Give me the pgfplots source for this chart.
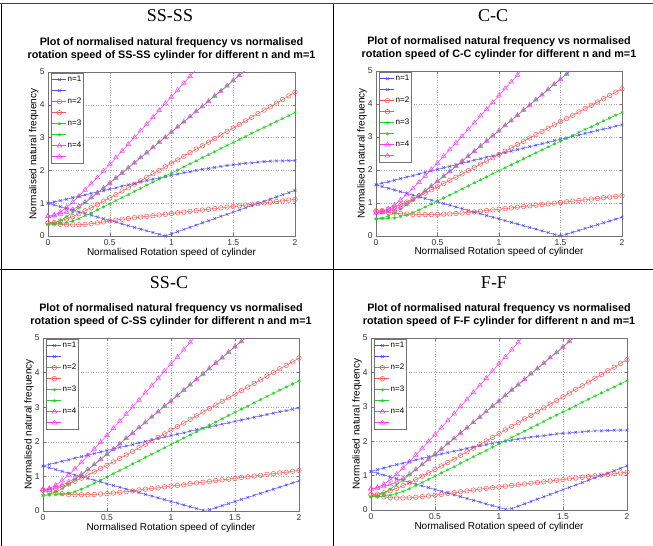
\documentclass[border=0pt]{standalone}
\usepackage{pgfplots}
\pgfplotsset{compat=1.18}
\usepackage{pgfplotstable}
\usepackage{fontspec}
\setmainfont{Liberation Sans}
\newfontfamily\headfont{Liberation Serif}
\definecolor{mblue}{RGB}{80,80,250}
\definecolor{mred}{RGB}{250,85,85}
\definecolor{mgreen}{RGB}{30,210,30}
\definecolor{mmag}{RGB}{250,60,250}

% SS-SS
\pgfplotstableread{
x Bu Bl Ru Rl Gu Gl Mu Ml
0 1.00 1.000 0.40 0.40 0.35 0.36 0.60 0.60
0.05 1.04 0.947 0.41 0.37 0.38 0.37 0.64 0.62
0.1 1.08 0.895 0.46 0.355 0.47 0.38 0.73 0.67
0.15 1.12 0.842 0.52 0.345 0.59 0.41 0.87 0.73
0.2 1.17 0.789 0.59 0.34 0.72 0.46 1.03 0.81
0.25 1.21 0.737 0.68 0.345 0.86 0.53 1.21 0.91
0.3 1.25 0.684 0.77 0.355 1.01 0.62 1.40 1.03
0.35 1.30 0.632 0.86 0.375 1.16 0.70 1.59 1.17
0.4 1.34 0.579 0.96 0.40 1.31 0.80 1.78 1.31
0.45 1.38 0.526 1.06 0.43 1.46 0.89 1.98 1.46
0.5 1.43 0.474 1.16 0.46 1.61 0.98 2.18 1.61
0.55 1.47 0.421 1.26 0.485 1.77 1.08 2.39 1.77
0.6 1.52 0.368 1.37 0.51 1.92 1.17 2.59 1.92
0.65 1.56 0.316 1.47 0.533 2.08 1.26 2.80 2.08
0.7 1.60 0.263 1.58 0.556 2.23 1.36 3.00 2.23
0.75 1.65 0.211 1.68 0.578 2.39 1.45 3.21 2.39
0.8 1.69 0.158 1.79 0.599 2.54 1.55 3.41 2.54
0.85 1.73 0.105 1.90 0.621 2.70 1.64 3.62 2.70
0.9 1.77 0.053 2.00 0.642 2.86 1.73 3.83 2.86
0.95 1.81 0.000 2.11 0.664 3.01 1.83 4.04 3.01
1.0 1.85 0.066 2.22 0.685 3.17 1.92 4.24 3.17
1.05 1.89 0.132 2.32 0.707 3.33 2.01 4.45 3.33
1.1 1.93 0.199 2.43 0.728 3.48 2.11 4.66 3.48
1.15 1.96 0.265 2.54 0.750 3.64 2.20 4.87 3.64
1.2 2.00 0.331 2.65 0.771 3.80 2.29 5.08 3.80
1.25 2.03 0.397 2.75 0.793 3.95 2.39 nan 3.95
1.3 2.06 0.463 2.86 0.814 4.11 2.48 nan 4.11
1.35 2.09 0.530 2.97 0.836 4.27 2.57 nan 4.27
1.4 2.12 0.596 3.08 0.857 4.42 2.67 nan 4.42
1.45 2.15 0.662 3.19 0.879 4.58 2.76 nan 4.58
1.5 2.17 0.728 3.29 0.900 4.74 2.85 nan 4.74
1.55 2.195 0.794 3.40 0.922 4.90 2.94 nan 4.90
1.6 2.22 0.860 3.51 0.943 5.05 3.03 nan 5.05
1.65 2.23 0.927 3.62 0.965 nan 3.13 nan nan
1.7 2.25 0.993 3.73 0.986 nan 3.22 nan nan
1.75 2.27 1.059 3.84 1.008 nan 3.31 nan nan
1.8 2.28 1.125 3.94 1.029 nan 3.40 nan nan
1.85 2.29 1.191 4.05 1.051 nan 3.49 nan nan
1.9 2.29 1.258 4.16 1.072 nan 3.58 nan nan
1.95 2.30 1.324 4.27 1.094 nan 3.67 nan nan
2.0 2.30 1.390 4.38 1.115 nan 3.76 nan nan
}\tabA

% C-C
\pgfplotstableread{
x Bu Bl Ru Rl Gu Gl Mu Ml
0 1.55 1.550 0.75 0.76 0.52 0.52 0.70 0.70
0.05 1.60 1.498 0.77 0.74 0.54 0.53 0.73 0.71
0.1 1.64 1.447 0.81 0.715 0.61 0.54 0.82 0.75
0.15 1.69 1.395 0.87 0.695 0.70 0.55 0.94 0.81
0.2 1.74 1.343 0.95 0.68 0.82 0.59 1.09 0.88
0.25 1.79 1.292 1.03 0.665 0.94 0.64 1.26 0.98
0.3 1.83 1.240 1.12 0.655 1.08 0.71 1.44 1.10
0.35 1.88 1.188 1.21 0.65 1.22 0.79 1.63 1.23
0.4 1.93 1.137 1.30 0.648 1.36 0.88 1.82 1.37
0.45 1.97 1.085 1.40 0.65 1.51 0.97 2.02 1.51
0.5 2.02 1.033 1.49 0.655 1.66 1.06 2.21 1.66
0.55 2.07 0.982 1.59 0.662 1.81 1.15 2.42 1.81
0.6 2.11 0.930 1.69 0.67 1.96 1.24 2.62 1.96
0.65 2.16 0.878 1.78 0.683 2.11 1.33 2.82 2.11
0.7 2.21 0.827 1.88 0.697 2.27 1.43 3.02 2.27
0.75 2.25 0.775 1.98 0.712 2.42 1.52 3.23 2.42
0.8 2.30 0.723 2.08 0.73 2.57 1.61 3.43 2.57
0.85 2.34 0.672 2.18 0.75 2.73 1.70 3.64 2.73
0.9 2.39 0.620 2.27 0.77 2.88 1.79 3.84 2.88
0.95 2.43 0.568 2.37 0.79 3.04 1.89 4.05 3.04
1.0 2.48 0.517 2.47 0.81 3.19 1.98 4.26 3.19
1.05 2.53 0.465 2.57 0.83 3.35 2.07 4.47 3.35
1.1 2.57 0.413 2.67 0.851 3.50 2.16 4.67 3.50
1.15 2.62 0.362 2.77 0.872 3.66 2.25 4.88 3.66
1.2 2.66 0.310 2.87 0.892 3.82 2.34 5.09 3.82
1.25 2.71 0.258 2.97 0.913 3.97 2.43 nan 3.97
1.3 2.75 0.207 3.07 0.933 4.13 2.52 nan 4.13
1.35 2.80 0.155 3.17 0.954 4.28 2.61 nan 4.28
1.4 2.84 0.103 3.27 0.974 4.44 2.70 nan 4.44
1.45 2.89 0.052 3.37 0.995 4.60 2.79 nan 4.60
1.5 2.93 0.000 3.47 1.015 4.75 2.87 nan 4.75
1.55 2.97 0.057 3.56 1.036 4.91 2.96 nan 4.91
1.6 3.02 0.114 3.66 1.056 5.07 3.05 nan 5.07
1.65 3.06 0.171 3.76 1.077 nan 3.14 nan nan
1.7 3.11 0.228 3.86 1.097 nan 3.23 nan nan
1.75 3.15 0.285 3.96 1.118 nan 3.31 nan nan
1.8 3.20 0.342 4.06 1.138 nan 3.40 nan nan
1.85 3.24 0.399 4.16 1.159 nan 3.49 nan nan
1.9 3.28 0.456 4.26 1.179 nan 3.57 nan nan
1.95 3.33 0.513 4.36 1.20 nan 3.66 nan nan
2.0 3.37 0.570 4.46 1.22 nan 3.74 nan nan
}\tabB

% C-SS
\pgfplotstableread{
x Bu Bl Ru Rl Gu Gl Mu Ml
0 1.30 1.300 0.60 0.60 0.45 0.45 0.62 0.62
0.05 1.35 1.249 0.61 0.56 0.48 0.46 0.65 0.64
0.1 1.39 1.198 0.65 0.53 0.55 0.47 0.75 0.68
0.15 1.44 1.146 0.71 0.50 0.65 0.48 0.88 0.75
0.2 1.48 1.095 0.78 0.48 0.77 0.51 1.04 0.84
0.25 1.53 1.044 0.86 0.47 0.91 0.56 1.22 0.94
0.3 1.57 0.993 0.95 0.47 1.05 0.63 1.40 1.06
0.35 1.62 0.942 1.04 0.47 1.19 0.71 1.60 1.20
0.4 1.66 0.891 1.13 0.48 1.34 0.80 1.79 1.34
0.45 1.71 0.839 1.23 0.49 1.49 0.89 1.99 1.49
0.5 1.75 0.788 1.32 0.50 1.64 0.98 2.19 1.64
0.55 1.79 0.737 1.42 0.52 1.79 1.08 2.39 1.79
0.6 1.84 0.686 1.52 0.54 1.94 1.17 2.60 1.94
0.65 1.88 0.635 1.62 0.56 2.10 1.26 2.80 2.10
0.7 1.92 0.583 1.72 0.58 2.25 1.36 3.01 2.25
0.75 1.97 0.532 1.83 0.61 2.41 1.45 3.21 2.41
0.8 2.01 0.481 1.93 0.63 2.56 1.55 3.42 2.56
0.85 2.05 0.430 2.03 0.65 2.72 1.64 3.62 2.72
0.9 2.10 0.379 2.13 0.67 2.87 1.73 3.83 2.87
0.95 2.14 0.328 2.23 0.70 3.03 1.83 4.04 3.03
1.0 2.18 0.276 2.34 0.72 3.18 1.92 4.25 3.18
1.05 2.22 0.225 2.44 0.74 3.34 2.01 4.45 3.34
1.1 2.26 0.174 2.54 0.76 3.49 2.11 4.66 3.49
1.15 2.31 0.123 2.65 0.79 3.65 2.20 4.87 3.65
1.2 2.35 0.072 2.75 0.81 3.81 2.29 5.08 3.81
1.25 2.39 0.020 2.86 0.83 3.96 2.39 nan 3.96
1.3 2.43 0.036 2.96 0.85 4.12 2.48 nan 4.12
1.35 2.47 0.095 3.06 0.88 4.28 2.57 nan 4.28
1.4 2.51 0.155 3.17 0.90 4.43 2.67 nan 4.43
1.45 2.55 0.215 3.27 0.92 4.59 2.76 nan 4.59
1.5 2.59 0.274 3.38 0.94 4.75 2.85 nan 4.75
1.55 2.63 0.334 3.48 0.97 4.90 2.94 nan 4.90
1.6 2.67 0.393 3.58 0.99 5.06 3.03 nan 5.06
1.65 2.71 0.453 3.69 1.01 nan 3.13 nan nan
1.7 2.75 0.512 3.79 1.03 nan 3.22 nan nan
1.75 2.79 0.572 3.90 1.06 nan 3.31 nan nan
1.8 2.83 0.632 4.00 1.08 nan 3.40 nan nan
1.85 2.87 0.691 4.11 1.10 nan 3.49 nan nan
1.9 2.90 0.751 4.21 1.12 nan 3.58 nan nan
1.95 2.94 0.810 4.31 1.15 nan 3.67 nan nan
2.0 2.98 0.870 4.42 1.17 nan 3.76 nan nan
}\tabC

% F-F
\pgfplotstableread{
x Bu Bl Ru Rl Gu Gl Mu Ml
0 1.12 1.120 0.45 0.44 0.38 0.39 0.62 0.62
0.05 1.17 1.068 0.46 0.41 0.41 0.39 0.65 0.64
0.1 1.22 1.015 0.50 0.38 0.49 0.41 0.75 0.68
0.15 1.27 0.963 0.56 0.36 0.61 0.43 0.88 0.74
0.2 1.32 0.911 0.63 0.35 0.74 0.48 1.04 0.82
0.25 1.36 0.858 0.71 0.35 0.87 0.54 1.22 0.92
0.3 1.41 0.806 0.79 0.355 1.02 0.62 1.40 1.04
0.35 1.46 0.754 0.88 0.37 1.17 0.71 1.60 1.18
0.4 1.50 0.701 0.98 0.39 1.32 0.80 1.79 1.32
0.45 1.55 0.649 1.08 0.41 1.47 0.89 1.99 1.47
0.5 1.59 0.597 1.18 0.43 1.62 0.98 2.19 1.62
0.55 1.63 0.544 1.28 0.455 1.77 1.08 2.39 1.77
0.6 1.67 0.492 1.38 0.48 1.93 1.17 2.60 1.93
0.65 1.71 0.440 1.48 0.505 2.08 1.26 2.80 2.08
0.7 1.75 0.387 1.59 0.53 2.24 1.36 3.01 2.24
0.75 1.79 0.335 1.69 0.555 2.39 1.45 3.21 2.39
0.8 1.83 0.283 1.80 0.58 2.55 1.55 3.42 2.55
0.85 1.87 0.230 1.90 0.605 2.70 1.64 3.62 2.70
0.9 1.90 0.178 2.01 0.63 2.86 1.73 3.83 2.86
0.95 1.94 0.126 2.11 0.65 3.02 1.83 4.04 3.02
1.0 1.97 0.073 2.22 0.67 3.17 1.92 4.25 3.17
1.05 2.00 0.021 2.33 0.692 3.33 2.01 4.45 3.33
1.1 2.03 0.041 2.43 0.713 3.49 2.11 4.66 3.49
1.15 2.06 0.110 2.54 0.735 3.64 2.20 4.87 3.64
1.2 2.09 0.179 2.65 0.756 3.80 2.29 5.08 3.80
1.25 2.12 0.248 2.75 0.778 3.96 2.39 nan 3.96
1.3 2.14 0.317 2.86 0.799 4.11 2.48 nan 4.11
1.35 2.16 0.385 2.97 0.821 4.27 2.57 nan 4.27
1.4 2.19 0.454 3.08 0.842 4.43 2.67 nan 4.43
1.45 2.21 0.523 3.18 0.864 4.58 2.76 nan 4.58
1.5 2.23 0.592 3.29 0.885 4.74 2.85 nan 4.74
1.55 2.24 0.661 3.40 0.907 4.90 2.94 nan 4.90
1.6 2.26 0.729 3.51 0.928 5.05 3.03 nan 5.05
1.65 2.27 0.798 3.61 0.950 nan 3.13 nan nan
1.7 2.29 0.867 3.72 0.971 nan 3.22 nan nan
1.75 2.30 0.936 3.83 0.993 nan 3.31 nan nan
1.8 2.30 1.005 3.94 1.014 nan 3.40 nan nan
1.85 2.31 1.073 4.05 1.036 nan 3.49 nan nan
1.9 2.32 1.142 4.15 1.057 nan 3.58 nan nan
1.95 2.32 1.211 4.26 1.079 nan 3.67 nan nan
2.0 2.32 1.280 4.37 1.100 nan 3.76 nan nan
}\tabD

\pgfplotsset{
  panel/.style={
    scale only axis,
    xmin=0, xmax=2, ymin=0, ymax=5,
    xtick={0,0.5,1,1.5,2}, ytick={0,1,2,3,4,5},
    tick align=inside,
    major tick length=2.5bp,
    axis line style={black!55, line width=0.5bp},
    tick style={black!55, line width=0.4bp},
    grid=major,
    major grid style={black!35, line width=0.4bp, dash pattern=on 1bp off 1.5bp},
    tick label style={font=\fontsize{8.5bp}{10bp}\selectfont, text=black!80},
    /pgf/number format/assume math mode=true,
    label style={font=\fontsize{10bp}{12bp}\selectfont},
    title style={font=\fontsize{10.8bp}{12.3bp}\selectfont\bfseries, align=center, anchor=south, inner sep=0pt},
    legend style={at={(0,1)}, anchor=north west, xshift=3bp, yshift=-1bp,
      draw=black!55, fill=white, font=\fontsize{8bp}{9bp}\selectfont,
      inner xsep=1bp, inner ysep=1bp, row sep=0pt,
      nodes={inner sep=1bp, text height=6.5bp, text depth=2.5bp}},
    legend cell align=left,
    legend image code/.code={\draw[mark repeat=2, mark phase=2] plot coordinates {(0bp,0bp) (7bp,0bp) (14bp,0bp)};},
    every axis plot/.append style={line width=0.5bp},
  },
  sb/.style={mblue, mark=x, mark size=1.9bp},
  sr/.style={mred, mark=o, mark size=2.3bp},
  sg/.style={mgreen, mark=asterisk, mark size=1.8bp},
  sm/.style={mmag, mark=triangle, mark size=2.7bp},
}

\newcommand{\allplots}[1]{%
  \addplot[sb] table[x=x,y=Bu] {#1}; \addlegendentry{n=1}
  \addplot[sb] table[x=x,y=Bl] {#1}; \addlegendentry{\mbox{}}
  \addplot[sr] table[x=x,y=Ru] {#1}; \addlegendentry{n=2}
  \addplot[sr] table[x=x,y=Rl] {#1}; \addlegendentry{\mbox{}}
  \addplot[sg] table[x=x,y=Gu] {#1}; \addlegendentry{n=3}
  \addplot[sg] table[x=x,y=Gl] {#1}; \addlegendentry{\mbox{}}
  \addplot[sm] table[x=x,y=Mu] {#1}; \addlegendentry{n=4}
  \addplot[sm] table[x=x,y=Ml] {#1}; \addlegendentry{\mbox{}}
}

\begin{document}
\begin{tikzpicture}
\useasboundingbox (0,0) rectangle (653bp,546bp);
\draw[line width=1bp, black!75] (0,542bp) -- (653bp,542bp);
\draw[line width=0.8bp] (1.5bp,0) -- (1.5bp,542bp);
\draw[line width=0.8bp] (333bp,0) -- (333bp,542bp);
\draw[line width=0.8bp] (0,276.5bp) -- (653bp,276.5bp);

\node[font=\headfont\fontsize{18bp}{20bp}\selectfont, inner sep=0pt] at (170bp,530bp) {SS-SS};
\node[font=\headfont\fontsize{18bp}{20bp}\selectfont, inner sep=0pt] at (493bp,530bp) {C-C};
\node[font=\headfont\fontsize{18bp}{20bp}\selectfont, inner sep=0pt] at (169bp,263bp) {SS-C};
\node[font=\headfont\fontsize{18bp}{20bp}\selectfont, inner sep=0pt] at (494bp,263bp) {F-F};

\begin{axis}[panel, at={(48bp,310bp)}, anchor=south west, width=247bp, height=164bp,
  title={Plot of normalised natural frequency vs normalised\\rotation speed of SS-SS cylinder for different n and m=1},
  title style={at={(axis description cs:0.5,1.0335)}},
  xlabel={Normalised Rotation speed of cylinder}, ylabel={Normalised natural frequency},
  x label style={at={(axis description cs:0.5,-0.116)}, anchor=base},
  y label style={at={(axis description cs:-0.0466,0.5)}, anchor=base}]
\allplots{\tabA}
\end{axis}

\begin{axis}[panel, at={(376bp,310bp)}, anchor=south west, width=246bp, height=165bp,
  title={Plot of normalised natural frequency vs normalised\\rotation speed of C-C cylinder for different n and m=1},
  title style={at={(axis description cs:0.5,1.0333)}},
  xlabel={Normalised Rotation speed of cylinder}, ylabel={Normalised natural frequency},
  x label style={at={(axis description cs:0.5,-0.115)}, anchor=base},
  y label style={at={(axis description cs:-0.0467,0.5)}, anchor=base}]
\allplots{\tabB}
\end{axis}

\begin{axis}[panel, at={(43bp,35bp)}, anchor=south west, width=256bp, height=173bp,
  title={Plot of normalised natural frequency vs normalised\\rotation speed of C-SS cylinder for different n and m=1},
  title style={at={(axis description cs:0.5,1.0318)}},
  xlabel={Normalised Rotation speed of cylinder}, ylabel={Normalised natural frequency},
  x label style={at={(axis description cs:0.5,-0.11)}, anchor=base},
  y label style={at={(axis description cs:-0.0449,0.5)}, anchor=base}]
\allplots{\tabC}
\end{axis}

\begin{axis}[panel, at={(371bp,36bp)}, anchor=south west, width=256bp, height=172bp,
  title={Plot of normalised natural frequency vs normalised\\rotation speed of F-F cylinder for different n and m=1},
  title style={at={(axis description cs:0.5,1.032)}},
  xlabel={Normalised Rotation speed of cylinder}, ylabel={Normalised natural frequency},
  x label style={at={(axis description cs:0.5,-0.1105)}, anchor=base},
  y label style={at={(axis description cs:-0.0449,0.5)}, anchor=base}]
\allplots{\tabD}
\end{axis}
\end{tikzpicture}
\end{document}
